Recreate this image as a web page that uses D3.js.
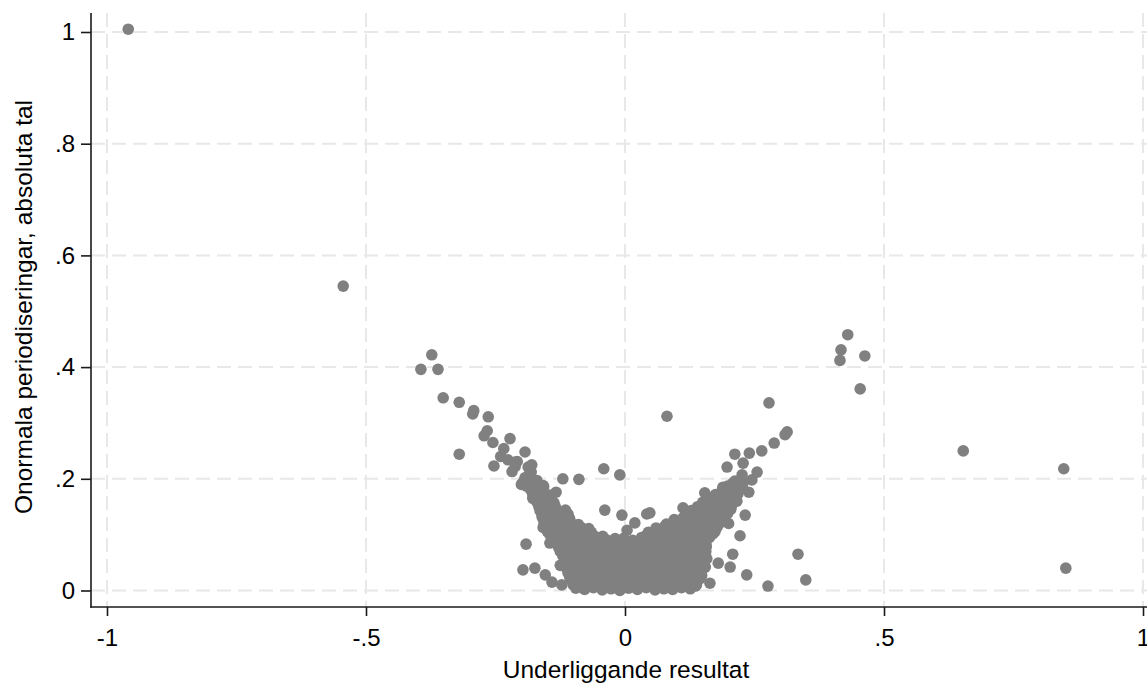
<!DOCTYPE html>
<html>
<head>
<meta charset="utf-8">
<script src="https://cdn.jsdelivr.net/npm/d3@7"></script>
<style>
  body { margin: 0; background: #fff; }
  text { font-family: "Liberation Sans", Arial, sans-serif; }
</style>
</head>
<body>
<svg id="chart" width="1147" height="685"></svg>
<script>
// tick values
var xTicks = [-1, -0.5, 0, 0.5, 1];
var yTicks = [0, 0.2, 0.4, 0.6, 0.8, 1];

// isolated points far from the cluster
var outliers = [[-0.959,1.005],[-0.544,0.545],[0.430,0.458],[0.417,0.431],[0.415,0.412],[0.463,0.420],
  [0.454,0.361],[0.653,0.250],[0.847,0.218],[0.851,0.040],[0.334,0.065],[0.349,0.019],[0.081,0.312],[0.278,0.336]];

// left branch of the V
var leftArm = [[-0.373,0.422],[-0.394,0.396],[-0.361,0.396],[-0.351,0.345],[-0.320,0.337],[-0.292,0.322],
  [-0.294,0.316],[-0.264,0.311],[-0.266,0.286],[-0.272,0.277],[-0.255,0.265],[-0.320,0.244],[-0.222,0.272],
  [-0.234,0.254],[-0.226,0.234],[-0.253,0.223],[-0.193,0.248],[-0.208,0.231],[-0.218,0.213],[-0.187,0.221],
  [-0.193,0.202],[-0.170,0.197],[-0.176,0.176],[-0.158,0.188],[-0.133,0.176],[-0.178,0.165],[-0.189,0.203],
  [-0.164,0.162],[-0.145,0.149],[-0.160,0.132],[-0.158,0.113],[-0.145,0.085],[-0.191,0.083],[-0.197,0.037],
  [-0.174,0.040],[-0.154,0.028],[-0.125,0.045],[-0.141,0.015],[-0.122,0.010],[-0.120,0.200],[-0.089,0.199],
  [-0.200,0.190],[-0.212,0.222],[-0.240,0.240],[-0.181,0.212],[-0.180,0.225],[-0.212,0.230]];

// right branch of the V
var rightArm = [[0.313,0.284],[0.309,0.279],[0.288,0.264],[0.264,0.250],[0.240,0.246],[0.212,0.244],
  [0.197,0.221],[0.228,0.228],[0.255,0.212],[0.245,0.198],[0.226,0.207],[0.208,0.192],[0.189,0.185],
  [0.239,0.176],[0.154,0.175],[0.183,0.171],[0.112,0.148],[0.232,0.135],[0.222,0.098],[0.208,0.065],
  [0.203,0.042],[0.235,0.028],[0.276,0.008],[0.180,0.049],[0.164,0.013],[0.216,0.160],[0.200,0.120]];

// loose points above the middle of the bowl
var gapPts = [[-0.041,0.218],[-0.010,0.207],[-0.039,0.144],[-0.006,0.135],[0.048,0.139],[0.042,0.137],
  [0.019,0.121],[0.004,0.108]];

// dense bowl near the origin, bottom to top
var bowlLow = [
  [-0.095,0.004],[-0.078,0.002],[-0.061,0.005],[-0.044,0.001],[-0.027,0.003],[-0.010,0.000],[0.007,0.004],
  [0.024,0.002],[0.041,0.005],[0.058,0.001],[0.075,0.003],[0.092,0.002],[0.109,0.005],[0.126,0.003],[0.136,0.008],
  [-0.104,0.019],[-0.087,0.016],[-0.070,0.020],[-0.053,0.017],[-0.036,0.019],[-0.019,0.015],[-0.002,0.018],
  [0.015,0.020],[0.032,0.016],[0.049,0.019],[0.066,0.017],[0.083,0.020],[0.100,0.016],[0.117,0.019],[0.134,0.017],[0.145,0.021],
  [-0.110,0.032],[-0.093,0.035],[-0.076,0.031],[-0.059,0.034],[-0.042,0.032],[-0.025,0.035],[-0.008,0.031],
  [0.009,0.034],[0.026,0.033],[0.043,0.030],[0.060,0.035],[0.077,0.032],[0.094,0.034],[0.111,0.031],[0.128,0.035],[0.147,0.033],
  [-0.116,0.047],[-0.100,0.050],[-0.084,0.046],[-0.067,0.049],[-0.050,0.048],[-0.033,0.045],[-0.016,0.050],
  [0.001,0.047],[0.018,0.049],[0.035,0.046],[0.052,0.050],[0.069,0.047],[0.086,0.049],[0.103,0.045],[0.120,0.048],
  [0.137,0.050],[0.150,0.047]
];
var bowlLowFill = [
  [-0.100,0.010],[-0.083,0.012],[-0.066,0.009],[-0.049,0.011],[-0.032,0.010],[-0.015,0.008],[0.002,0.011],
  [0.019,0.009],[0.036,0.012],[0.053,0.010],[0.070,0.008],[0.087,0.011],[0.104,0.009],[0.121,0.012],[0.138,0.010],
  [-0.107,0.025],[-0.090,0.027],[-0.073,0.024],[-0.056,0.026],[-0.039,0.025],[-0.022,0.023],[-0.005,0.027],
  [0.012,0.024],[0.029,0.026],[0.046,0.025],[0.063,0.023],[0.080,0.027],[0.097,0.024],[0.114,0.026],[0.131,0.025],[0.148,0.027],
  [-0.113,0.040],[-0.096,0.042],[-0.079,0.039],[-0.062,0.041],[-0.045,0.040],[-0.028,0.038],[-0.011,0.042],
  [0.006,0.039],[0.023,0.041],[0.040,0.040],[0.057,0.038],[0.074,0.042],[0.091,0.039],[0.108,0.041],[0.125,0.040],
  [0.142,0.038],[0.155,0.042],
  [-0.112,0.055],[-0.093,0.057],[-0.076,0.054],[-0.059,0.056],[-0.042,0.055],[-0.025,0.053],[-0.008,0.057],
  [0.009,0.054],[0.026,0.056],[0.043,0.055],[0.060,0.053],[0.077,0.057],[0.094,0.054],[0.111,0.056],[0.128,0.055],
  [0.145,0.053],[0.158,0.057]
];
var bowlMid = [
  [-0.120,0.062],[-0.105,0.065],[-0.088,0.061],[-0.071,0.064],[-0.054,0.062],[-0.037,0.066],[-0.020,0.061],
  [-0.003,0.064],[0.014,0.063],[0.031,0.060],[0.048,0.065],[0.065,0.062],[0.082,0.064],[0.099,0.061],[0.116,0.065],
  [0.133,0.062],[0.154,0.064],
  [-0.128,0.077],[-0.112,0.080],[-0.096,0.076],[-0.079,0.079],[-0.062,0.078],[-0.045,0.075],[-0.028,0.080],
  [-0.011,0.077],[0.006,0.079],[0.023,0.076],[0.040,0.080],[0.057,0.077],[0.074,0.079],[0.091,0.075],[0.108,0.078],
  [0.125,0.080],[0.142,0.077],[0.157,0.079],
  [-0.138,0.092],[-0.121,0.095],[-0.104,0.091],[-0.087,0.094],[-0.070,0.092],[-0.053,0.095],[-0.036,0.091],
  [-0.019,0.093],[-0.002,0.094],[0.015,0.090],[0.032,0.095],[0.049,0.092],[0.066,0.094],[0.083,0.091],[0.100,0.095],
  [0.117,0.092],[0.134,0.094],[0.151,0.091],[0.163,0.095]
];
var bowlMidFill = [
  [-0.125,0.070],[-0.113,0.072],[-0.096,0.069],[-0.079,0.071],[-0.062,0.070],[-0.045,0.068],[-0.028,0.072],
  [-0.011,0.069],[0.006,0.071],[0.023,0.070],[0.040,0.068],[0.057,0.072],[0.074,0.069],[0.091,0.071],[0.108,0.070],
  [0.125,0.068],[0.142,0.072],[0.156,0.070],
  [-0.133,0.085],[-0.116,0.087],[-0.099,0.084],[-0.082,0.086],[-0.065,0.085],[-0.048,0.083],[-0.031,0.087],
  [-0.014,0.084],[0.003,0.086],[0.020,0.085],[0.037,0.083],[0.054,0.087],[0.071,0.084],[0.088,0.086],[0.105,0.085],
  [0.122,0.083],[0.139,0.087],[0.156,0.085],
  [-0.145,0.100],[-0.128,0.102],[-0.111,0.099],[-0.094,0.101],[-0.077,0.100],[-0.060,0.098],[-0.043,0.097],
  [0.040,0.098],[0.057,0.101],[0.074,0.099],[0.091,0.102],[0.108,0.100],[0.125,0.098],[0.142,0.101],[0.159,0.099],[0.170,0.102]
];
var bowlHigh = [
  [-0.150,0.106],[-0.133,0.109],[-0.116,0.105],[-0.099,0.108],[-0.082,0.107],[-0.065,0.104],[0.045,0.104],
  [0.062,0.108],[0.079,0.105],[0.096,0.109],[0.113,0.106],[0.130,0.108],[0.147,0.105],[0.164,0.109],[0.174,0.106],
  [-0.153,0.113],[-0.136,0.115],[-0.119,0.112],[-0.102,0.114],[-0.085,0.113],[-0.070,0.111],
  [0.060,0.112],[0.077,0.115],[0.094,0.113],[0.111,0.114],[0.128,0.112],[0.145,0.115],[0.162,0.113],[0.178,0.114],
  [-0.156,0.120],[-0.139,0.123],[-0.122,0.119],[-0.105,0.122],[-0.090,0.118],[0.080,0.119],[0.097,0.122],
  [0.114,0.120],[0.131,0.123],[0.148,0.119],[0.165,0.122],[0.182,0.120],[0.190,0.126],
  [-0.158,0.128],[-0.141,0.130],[-0.124,0.127],[-0.107,0.129],[0.095,0.127],[0.112,0.130],[0.129,0.128],
  [0.146,0.129],[0.163,0.127],[0.180,0.130],[0.192,0.128],
  [-0.160,0.135],[-0.143,0.138],[-0.126,0.134],[-0.110,0.137],[0.117,0.136],[0.134,0.139],[0.151,0.135],
  [0.168,0.138],[0.185,0.134],[0.198,0.138],
  [-0.164,0.143],[-0.147,0.145],[-0.130,0.142],[-0.115,0.144],[0.128,0.143],[0.145,0.145],[0.162,0.142],
  [0.179,0.144],[0.196,0.143],[0.204,0.145],
  [-0.166,0.150],[-0.150,0.153],[-0.134,0.149],[0.140,0.150],[0.157,0.153],[0.174,0.149],[0.191,0.152],[0.205,0.150],
  [-0.170,0.158],[-0.153,0.160],[-0.137,0.157],[0.150,0.158],[0.167,0.160],[0.184,0.157],[0.201,0.159],[0.210,0.158],
  [-0.172,0.165],[-0.156,0.168],[0.165,0.166],[0.182,0.169],[0.199,0.165],[0.212,0.168],
  [-0.178,0.172],[-0.161,0.174],[-0.146,0.171],[0.175,0.172],[0.192,0.174],[0.209,0.171],[0.218,0.173],
  [-0.182,0.180],[-0.166,0.183],[0.188,0.180],[0.204,0.183],[0.219,0.179],
  [-0.190,0.187],[-0.173,0.189],[-0.157,0.186],[0.198,0.187],[0.215,0.189],[0.226,0.186],
  [-0.196,0.195],[-0.180,0.192],[0.212,0.196],[0.228,0.193]
];

var allPts = [].concat(outliers, leftArm, rightArm, gapPts, bowlLow, bowlLowFill, bowlMid, bowlMidFill, bowlHigh);

var frame = {left: 91, right: 1147, top: 13, bottom: 607};

var x = d3.scaleLinear().domain([-1, 1]).range([107, 1143]);
var y = d3.scaleLinear().domain([0, 1]).range([590.5, 32]);

var fmt = (d) => d === 0 ? "0" : String(d).replace("0.", ".");

var svg = d3.select("#chart");

// dashed grid
svg.append("g").selectAll("line")
  .data(yTicks).enter().append("line")
  .attr("x1", frame.left).attr("x2", frame.right)
  .attr("y1", d => y(d)).attr("y2", d => y(d))
  .attr("stroke", "#e8e8e8").attr("stroke-width", 2)
  .attr("stroke-dasharray", "14,7");

svg.append("g").selectAll("line")
  .data(xTicks).enter().append("line")
  .attr("x1", d => x(d)).attr("x2", d => x(d))
  .attr("y1", frame.top).attr("y2", frame.bottom)
  .attr("stroke", "#e8e8e8").attr("stroke-width", 2)
  .attr("stroke-dasharray", "14,7");

// points
svg.append("g").selectAll("circle")
  .data(allPts).enter().append("circle")
  .attr("cx", d => x(d[0]))
  .attr("cy", d => y(d[1]))
  .attr("r", 5.8)
  .attr("fill", "#808080");

// axes
var xAxis = svg.append("g")
  .attr("transform", "translate(0," + frame.bottom + ")")
  .call(d3.axisBottom(x).tickValues(xTicks).tickFormat(fmt).tickSize(9).tickSizeOuter(0).tickPadding(13));
var yAxis = svg.append("g")
  .attr("transform", "translate(" + frame.left + ",0)")
  .call(d3.axisLeft(y).tickValues(yTicks).tickFormat(fmt).tickSize(10).tickSizeOuter(0).tickPadding(6));

[xAxis, yAxis].forEach(g => {
  g.select(".domain").remove();
  g.selectAll(".tick line").attr("stroke", "#1a1a1a").attr("stroke-width", 1.6);
  g.selectAll(".tick text")
    .attr("fill", "#000")
    .style("font-size", "24px")
    .style("font-family", "'Liberation Sans', Arial, sans-serif");
});

svg.append("line")
  .attr("x1", frame.left).attr("x2", frame.left)
  .attr("y1", frame.top).attr("y2", frame.bottom + 0.8)
  .attr("stroke", "#1a1a1a").attr("stroke-width", 1.6);
svg.append("line")
  .attr("x1", frame.left - 0.8).attr("x2", frame.right)
  .attr("y1", frame.bottom).attr("y2", frame.bottom)
  .attr("stroke", "#1a1a1a").attr("stroke-width", 1.6);

// axis titles
svg.append("text")
  .attr("x", 626).attr("y", 678)
  .attr("text-anchor", "middle")
  .style("font-size", "24.5px")
  .text("Underliggande resultat");

svg.append("text")
  .attr("transform", "translate(32,307) rotate(-90)")
  .attr("text-anchor", "middle")
  .style("font-size", "24.5px")
  .text("Onormala periodiseringar, absoluta tal");
</script>
</body>
</html>
